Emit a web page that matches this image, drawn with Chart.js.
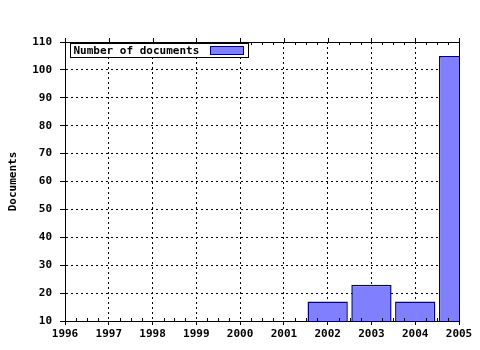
<!DOCTYPE html>
<html>
<head>
<meta charset="utf-8">
<script src="https://cdn.jsdelivr.net/npm/chart.js@4/dist/chart.umd.min.js"></script>
<style>
  html, body { margin: 0; padding: 0; background: #fff; }
  #wrap { width: 480px; height: 350px; }
</style>
</head>
<body>
<div id="wrap"><canvas id="docChart"></canvas></div>
<script>
const years = ['1996', '1997', '1998', '1999', '2000', '2001', '2002', '2003', '2004', '2005'];
const documents = [0, 0, 0, 0, 0, 0, 17, 23, 17, 105];
const seriesName = 'Number of documents';
const yTitle = 'Documents';
const yMin = 10, yMax = 110, yStep = 10;

Chart.defaults.font.family = 'DejaVu Sans Mono';
Chart.defaults.font.size = 11;
Chart.defaults.font.weight = 'bold';
Chart.defaults.color = '#000';

// box round the plot, ticks on the top edge, small inner ticks, legend inside
const frame = {
    id: 'frame',
    afterDraw(chart) {
        const ctx = chart.ctx;
        const a = chart.chartArea;
        const x = chart.scales.x;
        ctx.save();
        ctx.strokeStyle = '#000';
        ctx.lineWidth = 1;
        ctx.setLineDash([]);
        ctx.strokeRect(Math.round(a.left) + 0.5, Math.round(a.top) + 0.5,
            Math.round(a.right - a.left), Math.round(a.bottom - a.top));
        ctx.beginPath();
        for (let i = 0; i < years.length; i++) {
            const px = Math.round(x.getPixelForValue(i)) + 0.5;
            ctx.moveTo(px, a.top - 4);
            ctx.lineTo(px, a.top);
            if (i < years.length - 1) {
                for (let q = 1; q < 4; q++) {
                    const mx = Math.round(x.getPixelForValue(i + q / 4)) + 0.5;
                    ctx.moveTo(mx, a.top);
                    ctx.lineTo(mx, a.top + 3);
                    ctx.moveTo(mx, a.bottom);
                    ctx.lineTo(mx, a.bottom - 3);
                }
            }
        }
        ctx.stroke();

        // legend
        const ds = chart.data.datasets[0];
        ctx.font = 'bold 11px "DejaVu Sans Mono"';
        const tw = ctx.measureText(seriesName).width;
        const bx = Math.round(a.left) + 5.5, by = Math.round(a.top) + 1.5;
        const bw = Math.round(tw) + 52, bh = 14;
        ctx.fillStyle = '#fff';
        ctx.fillRect(bx, by, bw, bh);
        ctx.strokeRect(bx, by, bw, bh);
        ctx.fillStyle = '#000';
        ctx.textBaseline = 'middle';
        ctx.fillText(seriesName, bx + 3, by + bh / 2 + 1);
        ctx.fillStyle = ds.backgroundColor;
        ctx.strokeStyle = ds.borderColor;
        ctx.lineWidth = 1;
        ctx.fillRect(bx + bw - 38, by + 3, 33, 8);
        ctx.strokeRect(bx + bw - 38, by + 3, 33, 8);
        ctx.restore();
    }
};

new Chart(document.getElementById('docChart'), {
    type: 'bar',
    data: {
        labels: years,
        datasets: [{
            label: seriesName,
            data: documents,
            backgroundColor: '#8080ff',
            borderColor: '#000080',
            borderWidth: 1.5,
            borderSkipped: 'start',
            inflateAmount: 0,
            categoryPercentage: 0.92,
            barPercentage: 1
        }]
    },
    options: {
        responsive: true,
        maintainAspectRatio: false,
        animation: false,
        layout: { padding: { left: 0, top: 42, right: 21, bottom: 0 } },
        plugins: {
            legend: { display: false },
            tooltip: { enabled: false }
        },
        scales: {
            x: {
                offset: false,
                grid: {
                    offset: false,
                    color: '#000',
                    lineWidth: 1,
                    tickBorderDash: [],
                    tickColor: '#000',
                    tickLength: 4
                },
                border: { display: true, color: '#000', width: 1, dash: [2, 3] },
                ticks: { padding: 3, maxRotation: 0, autoSkip: false },
                afterFit: scale => { scale.height = 29; }
            },
            y: {
                min: yMin,
                max: yMax,
                grid: {
                    color: '#000',
                    lineWidth: 1,
                    tickBorderDash: [],
                    tickColor: '#000',
                    tickLength: 5
                },
                border: { display: true, color: '#000', width: 1, dash: [2, 3] },
                ticks: { stepSize: yStep, padding: 8 },
                title: {
                    display: true,
                    text: yTitle,
                    padding: { top: 7, bottom: 0 }
                },
                afterFit: scale => { scale.width = 65; }
            }
        }
    },
    plugins: [frame]
});
</script>
</body>
</html>
